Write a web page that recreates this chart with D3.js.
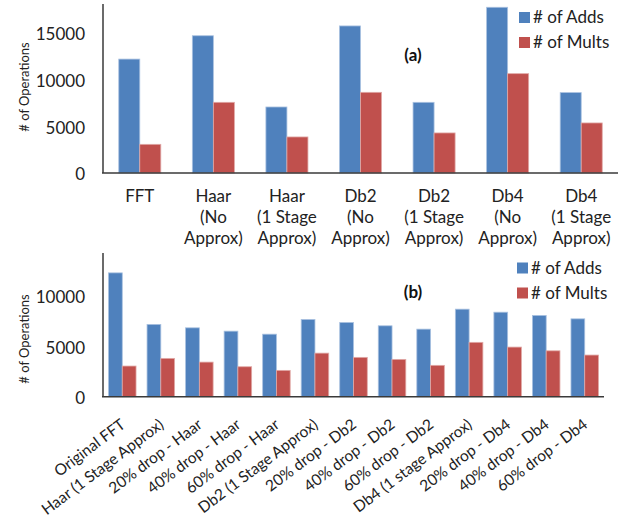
<!DOCTYPE html>
<html>
<head>
<meta charset="utf-8">
<script src="https://cdn.jsdelivr.net/npm/d3@7"></script>
<style>
  body { margin: 0; background: #fff; }
  svg { display: block; font-family: Lato, "Open Sans", sans-serif; }
</style>
</head>
<body>
<svg id="chart" width="633" height="529"></svg>
<script>
// ---- data ----
const SERIES = ['# of Adds', '# of Mults'];
const COLORS = ['#4F81BD', '#C0504D'];

// panel (a)
const CATS_A = [
    ['FFT'],
    ['Haar', '(No', 'Approx)'],
    ['Haar', '(1 Stage', 'Approx)'],
    ['Db2', '(No', 'Approx)'],
    ['Db2', '(1 Stage', 'Approx)'],
    ['Db4', '(No', 'Approx)'],
    ['Db4', '(1 Stage', 'Approx)']
];
const ADDS_A = [12200, 14700, 7070, 15750, 7570, 17750, 8610];
const MULTS_A = [3070, 7570, 3860, 8640, 4290, 10640, 5360];
const TICKS_A = [0, 5000, 10000, 15000];

// panel (b)
const CATS_B = ['Original FFT', 'Haar (1 Stage Approx)', '20% drop - Haar', '40% drop - Haar',
    '60% drop - Haar', 'Db2 (1 Stage Approx)', '20% drop - Db2', '40% drop - Db2',
    '60% drop - Db2', 'Db4 (1 stage Approx)', '20% drop - Db4', '40% drop - Db4', '60% drop - Db4'];
const ADDS_B = [12280, 7170, 6830, 6500, 6200, 7660, 7360, 7030, 6700, 8680, 8380, 8060, 7720];
const MULTS_B = [3040, 3800, 3430, 2970, 2610, 4320, 3900, 3700, 3110, 5390, 4920, 4550, 4130];
const TICKS_B = [0, 5000, 10000];

const SVG = d3.select('#chart');
const AXIS_COLOR = '#3a3a3a';

/**
 * Draws one grouped bar panel
 */
const buildPanel = (cfg) => {
    const g = SVG.append('g').attr('id', cfg.id);
    const keys = cfg.cats.map((c, i) => i);

    const x0 = d3.scaleBand().domain(keys).range([cfg.left, cfg.right]).padding(0);
    const x1 = d3.scaleBand().domain([0, 1]).range([0, x0.bandwidth()])
        .paddingInner(0).paddingOuter(cfg.outer);
    const y = d3.scaleLinear().domain([0, cfg.max]).range([cfg.base, cfg.top]);

    const rows = keys.map(i => ({ i, vals: [cfg.adds[i], cfg.mults[i]] }));

    // bars
    g.append('g').selectAll('g')
        .data(rows)
        .join('g')
        .attr('transform', d => `translate(${x0(d.i)},0)`)
        .selectAll('rect')
        .data(d => d.vals.map((v, s) => ({ v, s })))
        .join('rect')
        .attr('x', d => x1(d.s))
        .attr('y', d => y(d.v))
        .attr('width', x1.bandwidth())
        .attr('height', d => y(0) - y(d.v))
        .attr('fill', d => COLORS[d.s])
        .attr('stroke', d => d.s === 0 ? '#a9c1e0' : '#e0a8a6')
        .attr('stroke-width', 0.8);

    // y axis
    const yAxis = d3.axisLeft(y).tickValues(cfg.ticks).tickSize(0).tickPadding(18).tickFormat(d3.format('d'));
    const ya = g.append('g').attr('transform', `translate(${cfg.left},0)`).call(yAxis);
    ya.select('.domain').remove();
    ya.selectAll('text')
        .attr('dy', '0.4em')
        .style('font-size', '17px')
        .style('fill', '#222')
        .style('font-family', 'Lato, sans-serif');
    g.append('line')
        .attr('x1', cfg.left).attr('x2', cfg.left)
        .attr('y1', cfg.top).attr('y2', cfg.base)
        .attr('stroke', AXIS_COLOR).attr('stroke-width', 1.5);
    g.append('line')
        .attr('x1', cfg.left - 1).attr('x2', cfg.right)
        .attr('y1', cfg.base).attr('y2', cfg.base)
        .attr('stroke', AXIS_COLOR).attr('stroke-width', 1.5);

    // y title
    g.append('text')
        .attr('transform', `translate(29,${cfg.ylabelY}) rotate(-90)`)
        .attr('text-anchor', 'middle')
        .style('font-size', '13px')
        .style('fill', '#222')
        .text('# of Operations');

    // panel tag
    g.append('text')
        .attr('x', cfg.tag[0]).attr('y', cfg.tag[1])
        .attr('text-anchor', 'middle')
        .style('font-size', '17px')
        .style('font-weight', 'bold')
        .style('fill', '#111')
        .text(cfg.tagText);

    // legend
    const lg = g.append('g').attr('transform', `translate(${cfg.legend[0]},${cfg.legend[1]})`);
    SERIES.forEach((s, i) => {
        lg.append('rect')
            .attr('x', 0).attr('y', i * 25)
            .attr('width', 11).attr('height', 11)
            .attr('fill', COLORS[i]);
        lg.append('text')
            .attr('x', 14).attr('y', i * 25 + 11)
            .style('font-size', '17px')
            .style('fill', '#222')
            .text(s);
    });

    return { g, x0 };
};

// ---- panel (a) ----
const A = buildPanel({
    id: 'panelA', cats: CATS_A, adds: ADDS_A, mults: MULTS_A, ticks: TICKS_A,
    left: 103, right: 618, top: 4, base: 173, max: 18100, outer: 0.75,
    ylabelY: 87, tag: [413, 61], tagText: '(a)', legend: [519, 12]
});
A.g.append('g').selectAll('text')
    .data(CATS_A)
    .join('text')
    .attr('x', (d, i) => A.x0(i) + A.x0.bandwidth() / 2)
    .attr('y', 202)
    .attr('text-anchor', 'middle')
    .style('font-size', '17px')
    .style('fill', '#222')
    .selectAll('tspan')
    .data(d => d)
    .join('tspan')
    .attr('x', function () { return d3.select(this.parentNode).attr('x'); })
    .attr('dy', (d, i) => i === 0 ? 0 : 21)
    .text(d => d);

// ---- panel (b) ----
const B = buildPanel({
    id: 'panelB', cats: CATS_B, adds: ADDS_B, mults: MULTS_B, ticks: TICKS_B,
    left: 103, right: 604, top: 253, base: 396.7, max: 14250, outer: 0.4,
    ylabelY: 339, tag: [413, 298], tagText: '(b)', legend: [517, 262.5]
});
B.g.append('g').selectAll('text')
    .data(CATS_B)
    .join('text')
    .attr('transform', (d, i) => `translate(${B.x0(i) + B.x0.bandwidth() / 2 + 4},${396.7 + 30}) rotate(-37)`)
    .attr('text-anchor', 'end')
    .style('font-size', '15.5px')
    .style('fill', '#222')
    .text(d => d);
</script>
</body>
</html>
